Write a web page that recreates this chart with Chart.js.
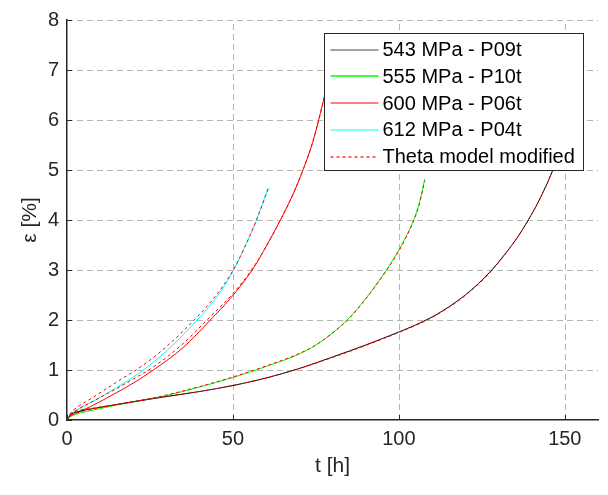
<!DOCTYPE html>
<html>
<head>
<meta charset="utf-8">
<script src="https://cdn.jsdelivr.net/npm/chart.js@4.4.0/dist/chart.umd.min.js"></script>
<style>
  html, body { margin: 0; padding: 0; background: #fff; }
  #wrap { width: 608px; height: 495px; }
</style>
</head>
<body>
<div id="wrap"><canvas id="creepChart" width="608" height="495"></canvas></div>
<script>
// creep curves: time [h] vs strain [%]
const t543 = [0, 1, 3, 8, 15, 20, 28, 40, 50, 60, 70, 80, 90, 100, 105, 110, 115, 120, 124, 128, 132, 136, 139, 142, 145, 146.4, 148.5];
const e543 = [0, 0.1, 0.16, 0.23, 0.31, 0.365, 0.45, 0.57, 0.69, 0.84, 1.03, 1.26, 1.5, 1.76, 1.9, 2.06, 2.26, 2.5, 2.73, 3.0, 3.32, 3.68, 4.0, 4.36, 4.78, 5.0, 5.35];
const eMod543 = [0, 0.12, 0.18, 0.24, 0.31, 0.365, 0.45, 0.57, 0.69, 0.84, 1.03, 1.25, 1.49, 1.75, 1.89, 2.05, 2.25, 2.49, 2.72, 2.99, 3.31, 3.68, 4.0, 4.36, 4.78, 5.0, 5.35];

const t555 = [0, 1, 3, 8, 15, 28, 40, 50, 60, 70, 75, 80, 85, 90, 95, 100, 102, 104, 106, 107.8];
const e555 = [0, 0.06, 0.12, 0.2, 0.3, 0.46, 0.66, 0.85, 1.07, 1.32, 1.5, 1.74, 2.04, 2.43, 2.88, 3.4, 3.65, 3.93, 4.3, 4.82];
const eMod555 = [0, 0.08, 0.14, 0.22, 0.31, 0.47, 0.67, 0.86, 1.08, 1.33, 1.5, 1.74, 2.03, 2.42, 2.87, 3.38, 3.63, 3.91, 4.28, 4.78];

const t600 = [0, 1, 3, 8, 15, 20, 26, 35, 43.2, 49.2, 55.8, 60, 64.3, 68, 71.1, 74, 77.1, 79];
const e600 = [0, 0.07, 0.14, 0.3, 0.55, 0.74, 1.0, 1.45, 2.0, 2.43, 3.0, 3.47, 4.0, 4.5, 5.0, 5.55, 6.34, 6.9];
const eMod600 = [0, 0.1, 0.2, 0.38, 0.63, 0.82, 1.06, 1.53, 2.07, 2.47, 3.02, 3.47, 4.0, 4.5, 5.0, 5.55, 6.34, 6.9];

const t612 = [0, 1, 3, 8, 15, 23, 30, 39.2, 45, 50, 53.5, 56.8, 60.6];
const e612 = [0, 0.1, 0.2, 0.38, 0.65, 1.0, 1.38, 2.0, 2.45, 2.97, 3.45, 3.95, 4.64];
const eMod612 = [0, 0.13, 0.25, 0.46, 0.76, 1.1, 1.47, 2.06, 2.5, 2.99, 3.45, 3.95, 4.62];

const seriesLabels = ['543 MPa - P09t', '555 MPa - P10t', '600 MPa - P06t', '612 MPa - P04t', 'Theta model modified'];
const seriesColors = ['#000000', '#00ff00', '#ff0000', '#00ffff', '#ff0000'];
const xTicks = [0, 50, 100, 150];
const yTicks = [0, 1, 2, 3, 4, 5, 6, 7, 8];

const FONT = "'Liberation Sans', Arial, Helvetica, sans-serif";
const TXT = '#262626';

function pts(ts, es) {
  return ts.map((t, i) => ({ x: t, y: es[i] }));
}

function expLine(ts, es, idx) {
  return {
    label: seriesLabels[idx],
    data: pts(ts, es),
    borderColor: seriesColors[idx],
    borderWidth: 1,
    pointRadius: 0,
    showLine: true,
    cubicInterpolationMode: 'monotone',
    order: 2
  };
}

function modelLine(ts, es) {
  return {
    label: seriesLabels[4],
    data: pts(ts, es),
    borderColor: seriesColors[4],
    borderWidth: 1,
    borderDash: [3, 3],
    pointRadius: 0,
    showLine: true,
    cubicInterpolationMode: 'monotone',
    order: 1
  };
}

// dashed grid + small inward ticks, matlab style
const gridLines = {
  id: 'gridLines',
  beforeDatasetsDraw(chart) {
    const c = chart.ctx;
    const a = chart.chartArea;
    const sx = chart.scales.x, sy = chart.scales.y;
    c.save();
    c.lineWidth = 1;
    c.strokeStyle = '#b4b4b4';
    c.setLineDash([6, 4]);
    xTicks.forEach(v => {
      if (v === 0) return;
      const px = Math.round(sx.getPixelForValue(v)) + 0.5;
      c.beginPath(); c.moveTo(px, a.bottom); c.lineTo(px, a.top); c.stroke();
    });
    yTicks.forEach(v => {
      if (v === 0) return;
      const py = Math.round(sy.getPixelForValue(v)) + 0.5;
      c.beginPath(); c.moveTo(a.left, py); c.lineTo(a.right, py); c.stroke();
    });
    c.setLineDash([]);
    c.strokeStyle = TXT;
    xTicks.forEach(v => {
      const px = Math.round(sx.getPixelForValue(v)) + 0.5;
      c.beginPath(); c.moveTo(px, a.bottom); c.lineTo(px, a.bottom - 5); c.stroke();
    });
    yTicks.forEach(v => {
      const py = Math.round(sy.getPixelForValue(v)) + 0.5;
      c.beginPath(); c.moveTo(a.left, py); c.lineTo(a.left + 5, py); c.stroke();
    });
    c.restore();
  }
};

// legend box drawn inside the axes, on top of the curves
const legendBox = {
  id: 'legendBox',
  afterDatasetsDraw(chart) {
    const c = chart.ctx;
    const area = chart.chartArea;
    const w = 259, h = 137;
    const x0 = Math.round(area.right - 15 - w) + 0.5;
    const y0 = Math.round(area.top + 13) + 0.5;
    c.save();
    c.fillStyle = '#ffffff';
    c.fillRect(x0, y0, w, h);
    c.strokeStyle = TXT;
    c.lineWidth = 1;
    c.strokeRect(x0, y0, w, h);
    c.font = '20px ' + FONT;
    c.textBaseline = 'middle';
    c.fillStyle = '#000';
    seriesLabels.forEach((lab, i) => {
      const y = y0 + 16 + i * 26.8;
      c.beginPath();
      c.strokeStyle = i === 0 ? '#444' : seriesColors[i];
      c.lineWidth = i === 1 ? 1.6 : 1.2;
      c.setLineDash(i === 4 ? [3, 3] : []);
      c.moveTo(x0 + 6, Math.round(y));
      c.lineTo(x0 + 54, Math.round(y));
      c.stroke();
      c.setLineDash([]);
      c.fillText(lab, x0 + 58, y + 1);
    });
    c.restore();
  }
};

const ctx = document.getElementById('creepChart').getContext('2d');
const creepChart = new Chart(ctx, {
  type: 'scatter',
  data: {
    datasets: [
      expLine(t543, e543, 0),
      expLine(t555, e555, 1),
      expLine(t600, e600, 2),
      expLine(t612, e612, 3),
      modelLine(t543, eMod543),
      modelLine(t555, eMod555),
      modelLine(t600, eMod600),
      modelLine(t612, eMod612)
    ]
  },
  options: {
    responsive: false,
    animation: false,
    layout: { padding: { left: 0, top: 16, right: 10, bottom: 0 } },
    plugins: {
      legend: { display: false },
      tooltip: { enabled: false }
    },
    scales: {
      x: {
        type: 'linear',
        min: 0,
        max: 160,
        afterBuildTicks: (s) => { s.ticks = xTicks.map(v => ({ value: v })); },
        afterFit: (s) => { s.height = 75; },
        ticks: { font: { family: FONT, size: 20 }, color: TXT, padding: 7, maxRotation: 0 },
        grid: { display: false, drawTicks: false },
        border: { display: true, color: TXT, width: 1.5 },
        title: { display: true, text: 't [h]', font: { family: FONT, size: 21 }, color: TXT, padding: { top: 0, bottom: 16 } }
      },
      y: {
        type: 'linear',
        min: 0,
        max: 8,
        afterBuildTicks: (s) => { s.ticks = yTicks.map(v => ({ value: v })); },
        afterFit: (s) => { s.width = 67; },
        ticks: { font: { family: FONT, size: 20 }, color: TXT, padding: 8 },
        grid: { display: false, drawTicks: false },
        border: { display: true, color: TXT, width: 1.5 },
        title: { display: true, text: 'ε [%]', font: { family: FONT, size: 21 }, color: TXT, padding: { top: 18, bottom: 0 } }
      }
    }
  },
  plugins: [gridLines, legendBox]
});
</script>
</body>
</html>
